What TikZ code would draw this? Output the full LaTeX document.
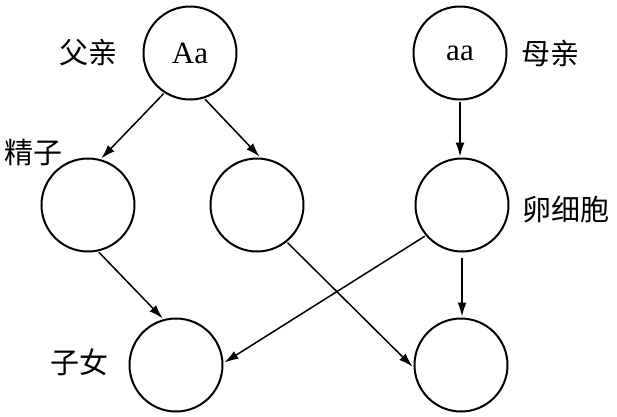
\documentclass[tikz,border=0pt]{standalone}
\usepackage{fontspec}
\setmainfont{Liberation Serif}
\newfontfamily\cjk{Noto Sans CJK SC}
\usetikzlibrary{arrows.meta}
\begin{document}
\begin{tikzpicture}[x=1pt,y=-1pt,
  cell/.style={circle,draw,line width=2pt,minimum size=93pt,inner sep=0pt,outer sep=2pt,font=\fontsize{31}{34}\selectfont},
  lab/.style={font=\cjk\fontsize{29}{32}\selectfont,inner sep=0pt},
  arr/.style={-{Latex[length=14pt,width=9pt]},line width=1.5pt}]
\useasboundingbox (0,0) rectangle (617,416);
\fill[white] (0,0) rectangle (617,416);
\node[cell] (Aa) at (190,53) {Aa};
\node[cell] (aa) at (460,53) {aa};
\node[cell] (s1) at (88,205) {};
\node[cell] (s2) at (257,205) {};
\node[cell] (egg) at (462,205) {};
\node[cell] (c1) at (176,365) {};
\node[cell] (c2) at (461,365) {};
\node[lab] (lf) at (88,53) {父亲};
\node[lab] (lm) at (550,53) {母亲};
\node[lab] (ls) at (34,152) {精子};
\node[lab] (le) at (566,210) {卵细胞};
\node[lab] (lc) at (79,362) {子女};
\draw[arr] (Aa.237) -- (s1.74);
\draw[arr] (Aa.288) -- (s2.87);
\draw[arr] (aa.south) -- (aa.south |- egg.north);
\draw[arr] (s1.283) -- (c1.106);
\draw[arr] (s2.309) -- (c2.182);
\draw[arr] (egg.220) -- (c1.3);
\draw[arr] ([yshift=-4pt]egg.south) -- (egg.south |- c2.north);
\end{tikzpicture}
\end{document}
